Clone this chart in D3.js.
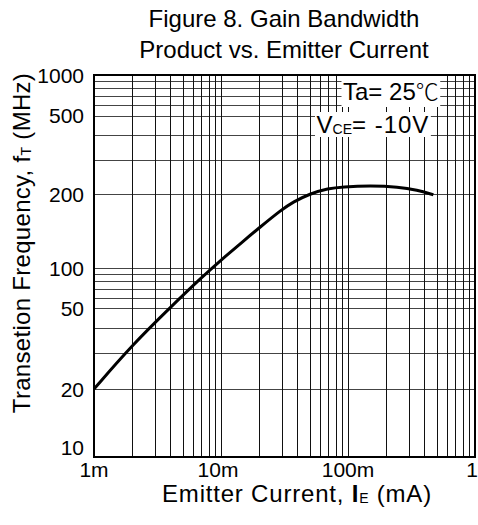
<!DOCTYPE html>
<html>
<head>
<meta charset="utf-8">
<script src="https://cdn.jsdelivr.net/npm/d3@7"></script>
<style>
  body { margin: 0; background: #fff; }
  svg { display: block; font-family: "Liberation Sans", Arial, Helvetica, sans-serif; }
</style>
</head>
<body>
<svg id="chart" width="478" height="525"></svg>
<script>
// Emitter current (mA) and transition frequency fT (MHz) along the curve
const currentMA = [1, 2, 4, 7, 10, 15, 20, 30, 37, 50, 70, 90, 150, 250, 350, 470];
const ftMHz     = [20, 33, 51, 85, 108, 129, 146, 173, 186, 201, 214, 218, 221, 218, 210, 199];

// Axis ticks
const xTickValues = [1, 10, 100, 1000];
const xTickLabels = ["1m", "10m", "100m", "1"];
const yTickValues = [10, 20, 50, 100, 200, 500, 1000];
const yTickLabels = ["10", "20", "50", "100", "200", "500", "1000"];

// Plot frame
const plot = { left: 94, top: 75, right: 475, bottom: 457 };
const plotH = plot.bottom - plot.top;
// The printed frequency axis is stretched unevenly between its labelled values
const yStops = [0, 0.178, 0.389, 0.494, 0.688, 0.893, 1];

const svg = d3.select("#chart");

const x = d3.scaleLog()
  .domain([xTickValues[0], xTickValues[xTickValues.length - 1]])
  .range([plot.left, plot.right]);

const y = d3.scaleLog()
  .domain(yTickValues)
  .range(yStops.map(f => plot.bottom - f * plotH));

// Grid
const grid = svg.append("g").attr("class", "grid");
const xDom = x.domain();
const yDom = [yTickValues[0], yTickValues[yTickValues.length - 1]];
grid.selectAll("line.h")
  .data(y.ticks().filter(v => v > yDom[0] && v < yDom[1]))
  .join("line")
  .attr("class", "h")
  .attr("x1", plot.left).attr("x2", plot.right)
  .attr("y1", d => Math.round(y(d)) + 0.5).attr("y2", d => Math.round(y(d)) + 0.5)
  .attr("stroke", "#444").attr("stroke-width", 1);
grid.selectAll("line.v")
  .data(x.ticks().filter(v => v > xDom[0] && v < xDom[1]))
  .join("line")
  .attr("class", "v")
  .attr("y1", plot.top).attr("y2", plot.bottom)
  .attr("x1", d => Math.round(x(d)) + 0.5).attr("x2", d => Math.round(x(d)) + 0.5)
  .attr("stroke", "#111").attr("stroke-width", 1);

// Condition notes on white panels
const notes = svg.append("g").attr("class", "notes");
const ta = notes.append("text")
  .attr("x", 343).attr("y", 100)
  .attr("font-size", 24);
ta.append("tspan").text("Ta= 25");
ta.append("tspan").attr("font-family", "'Noto Sans CJK JP', 'DejaVu Sans', sans-serif")
  .attr("font-weight", 300).attr("font-size", 23).text("℃");

const vce = notes.append("text")
  .attr("x", 316.5).attr("y", 133)
  .attr("font-size", 24);
vce.append("tspan").text("V");
vce.append("tspan").attr("font-size", 14).attr("dy", 1).text("CE");
vce.append("tspan").attr("dy", -1).attr("letter-spacing", 1).text("= -10V");

[[ta, 1.5, 76, 107], [vce, 1.5, 112, 137]].forEach(([t, padX, y0, y1]) => {
  const b = t.node().getBBox();
  notes.insert("rect", () => t.node())
    .attr("x", b.x - padX).attr("width", b.width + 2 * padX)
    .attr("y", y0).attr("height", y1 - y0)
    .attr("fill", "#fff");
});

// Curve
const line = d3.line()
  .x((d, i) => x(currentMA[i]))
  .y((d, i) => y(ftMHz[i]))
  .curve(d3.curveBasis);
svg.append("path")
  .datum(currentMA)
  .attr("d", line)
  .attr("fill", "none")
  .attr("stroke", "#000")
  .attr("stroke-width", 3)
  .attr("stroke-linejoin", "round");

// Frame
svg.append("rect")
  .attr("x", plot.left).attr("y", plot.top)
  .attr("width", plot.right - plot.left).attr("height", plotH)
  .attr("fill", "none").attr("stroke", "#000").attr("stroke-width", 2);

// Tick labels
svg.append("g").selectAll("text")
  .data(yTickValues)
  .join("text")
  .attr("x", 84)
  .attr("y", (d, i) => y(d) + (i === 0 ? -10 : 0))
  .attr("dy", "0.36em")
  .attr("text-anchor", "end")
  .attr("font-size", 21)
  .text((d, i) => yTickLabels[i]);

const lastX = xTickValues.length - 1;
svg.append("g").selectAll("text")
  .data(xTickValues)
  .join("text")
  .attr("x", (d, i) => i === lastX ? 478 : x(d) - (i === 1 ? 3 : 0))
  .attr("y", 477)
  .attr("text-anchor", (d, i) => i === lastX ? "end" : "middle")
  .attr("font-size", 21)
  .text((d, i) => xTickLabels[i]);

// Title
const title = svg.append("text")
  .attr("text-anchor", "middle")
  .attr("font-size", 24);
title.append("tspan").attr("x", 284).attr("y", 27).text("Figure 8. Gain Bandwidth");
title.append("tspan").attr("x", 284).attr("y", 58).text("Product vs. Emitter Current");

// Axis titles
const xt = svg.append("text")
  .attr("x", 297).attr("y", 502)
  .attr("text-anchor", "middle")
  .attr("font-size", 24)
  .attr("letter-spacing", 0.8);
xt.append("tspan").text("Emitter Current, ");
xt.append("tspan").attr("font-weight", "bold").text("I");
xt.append("tspan").attr("font-size", 14).attr("dy", 1).text("E");
xt.append("tspan").attr("dy", -1).text(" (mA)");

const yt = svg.append("text")
  .attr("transform", "translate(30,243) rotate(-90)")
  .attr("text-anchor", "middle")
  .attr("font-size", 24)
  .attr("letter-spacing", 0.3);
yt.append("tspan").text("Transetion Frequency, f");
yt.append("tspan").attr("font-size", 14).attr("dy", 1).text("T");
yt.append("tspan").attr("dy", -1).text(" (MHz)");
</script>
</body>
</html>
